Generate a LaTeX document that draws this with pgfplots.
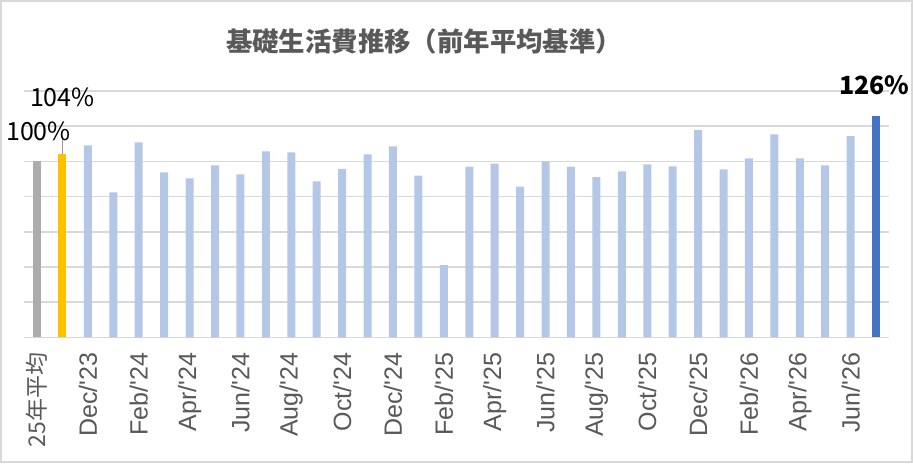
\documentclass[border=0pt]{standalone}
\usepackage{pgfplots}
\pgfplotsset{compat=1.18}
\usepackage{fontspec}
\setmainfont{Liberation Sans}
\newfontfamily\cjk{Noto Sans CJK JP}
\definecolor{gridgray}{HTML}{D9D9D9}
\definecolor{txtgray}{HTML}{595959}
\definecolor{bargray}{HTML}{AEABAB}
\definecolor{barorange}{HTML}{FFC000}
\definecolor{barlight}{HTML}{B4C7E7}
\definecolor{bardark}{HTML}{4472C4}
\newcommand\q{\textquotesingle}
\begin{document}
\begin{tikzpicture}
\path[use as bounding box] (0pt,0pt) rectangle (456.5pt,-231.5pt);
\draw[gridgray, line width=0.8pt] (0.4pt,-0.4pt) rectangle (456.1pt,-231.1pt);
\node[font=\cjk\bfseries\fontsize{13.2}{15}\selectfont, text=txtgray] at (212pt,-20.5pt) {基礎生活費推移（前年平均基準）};
\begin{axis}[
  at={(12.15pt,-168.65pt)}, anchor=south west,
  scale only axis, width=432.25pt, height=123.15pt,
  xmin=-0.5, xmax=33.5, ymin=0, ymax=140,
  ybar, bar width=4pt, bar shift=0pt,
  axis line style={draw=none},
  ytick={0,20,...,140}, yticklabels={},
  ymajorgrids, grid style={gridgray, line width=0.75pt},
  major tick length=0pt,
  xtick={0,2,...,32},
  xticklabels={{\cjk\fontsize{11.5}{14}\selectfont 25年平均},Dec/\q23,Feb/\q24,Apr/\q24,Jun/\q24,Aug/\q24,Oct/\q24,Dec/\q24,Feb/\q25,Apr/\q25,Jun/\q25,Aug/\q25,Oct/\q25,Dec/\q25,Feb/\q26,Apr/\q26,Jun/\q26},
  xticklabel style={rotate=90, anchor=east, inner sep=0pt, font=\fontsize{12.5}{15}\selectfont, text=txtgray},
  xticklabel shift=7.5pt,
  clip=false,
]
\addplot[fill=bargray, draw=none] coordinates {(0,100)};
\addplot[fill=barorange, draw=none] coordinates {(1,104)};
\addplot[fill=barlight, draw=none] coordinates {
(2,109.1) (3,82.4) (4,110.8) (5,93.8) (6,90.4) (7,97.7) (8,92.6) (9,105.7)
(10,105.1) (11,88.7) (12,95.7) (13,104.0) (14,108.5) (15,91.9) (16,41.0)
(17,97.0) (18,98.7) (19,85.7) (20,100.0) (21,97.0) (22,91.1) (23,94.3)
(24,98.3) (25,97.1) (26,117.7) (27,95.4) (28,101.7) (29,115.4) (30,101.7)
(31,97.7) (32,114.3)};
\addplot[fill=bardark, draw=none] coordinates {(33,126)};
\draw[gray!80, line width=0.75pt] (axis cs:1,104) -- (axis cs:1,114.3);
\node[font=\cjk\fontsize{12.5}{15}\selectfont, inner sep=0pt] at (axis cs:0.06,117) {100\%};
\node[font=\cjk\fontsize{12.5}{15}\selectfont, inner sep=0pt] at (axis cs:1,136.6) {104\%};
\node[font=\cjk\bfseries\fontsize{12.5}{15}\selectfont, inner sep=0pt] at (axis cs:32.93,143.2) {126\%};
\end{axis}
\end{tikzpicture}
\end{document}
